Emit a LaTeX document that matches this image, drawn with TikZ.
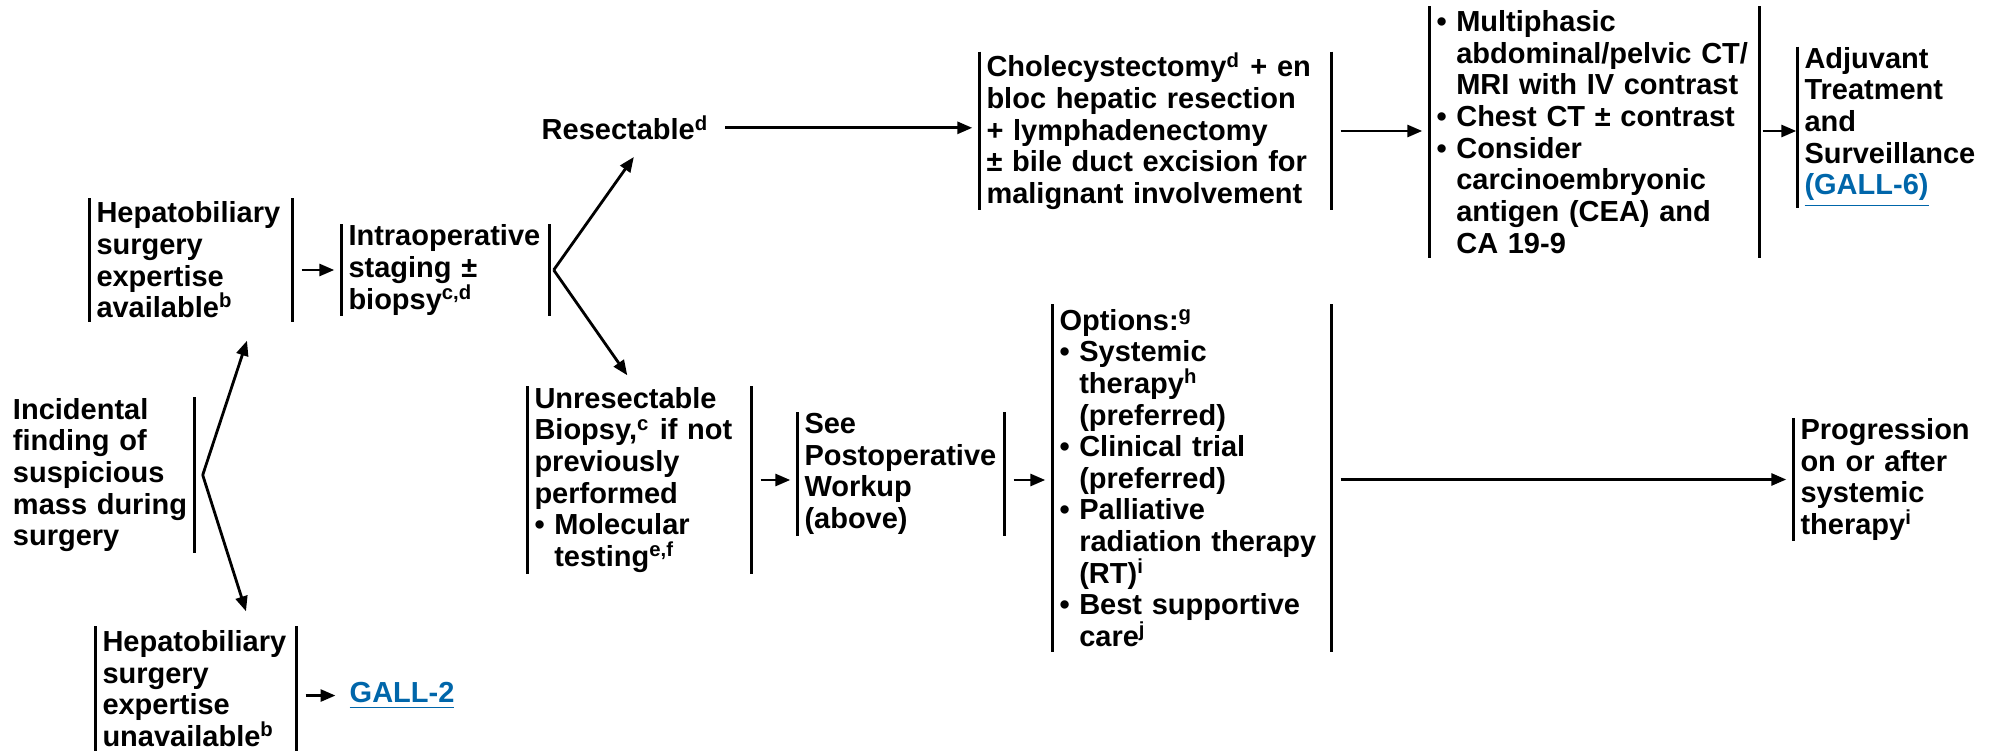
\documentclass[tikz,border=0pt]{standalone}
\usepackage{fontspec}
\setmainfont{Liberation Sans}
\usetikzlibrary{arrows.meta,positioning}
\definecolor{linkblue}{RGB}{0,102,170}
\newcommand{\bul}{\textbullet\ }
\newcommand{\ind}{\hphantom{\textbullet\ }}
\hyphenpenalty=10000

\begin{document}
\begin{tikzpicture}[
    txt/.style={font=\bfseries\fontsize{8.25}{9}\selectfont, align=left, inner xsep=0.065cm, inner ysep=0pt},
    bar/.style={line width=0.85pt},
    arr/.style={line width=0.8pt, -{Triangle[length=0.15cm,width=0.12cm]}, shorten <=0.09cm, shorten >=0.07cm}
]
    \useasboundingbox (0,0) rectangle (19.97,7.5);

    % left part
    \node[txt, inner xsep=0pt, text width=1.81cm, minimum height=1.54cm] (inc) at (1.035,2.75) {Incidental\\finding of\\suspicious\\mass during\\surgery};
    \node[txt, text width=1.89cm, minimum height=1.22cm] (avail) at (1.91,4.90) {Hepatobiliary\\surgery\\expertise\\available\textsuperscript{b}};
    \node[txt, text width=1.87cm, minimum height=1.23cm] (unavail) at (1.96,0.615) {Hepatobiliary\\surgery\\expertise\\unavailable\textsuperscript{b}};
    \node[txt, text=linkblue, anchor=base west] (gall2) at (3.425,0.48) {\underline{GALL-2}};
    \node[txt, text width=1.94cm, minimum height=0.90cm] (intraop) at (4.455,4.80) {Intraoperative\\staging ±\\biopsy\textsuperscript{c,d}};

    % resectable branch
    \node[txt, anchor=base west] (res) at (5.345,6.10) {Resectable\textsuperscript{d}};
    \node[txt, text width=3.38cm, minimum height=1.52cm] (chole) at (11.555,6.19) {Cholecystectomy\textsuperscript{d} + en\\bloc hepatic resection\\+ lymphadenectomy\\± bile duct excision for\\malignant involvement};
    \node[txt, text width=3.16cm, minimum height=2.50cm] (multi) at (15.945,6.18) {\bul Multiphasic\\\ind abdominal/pelvic CT/\\\ind MRI with IV contrast\\\bul Chest CT ± contrast\\\bul Consider\\\ind carcinoembryonic\\\ind antigen (CEA) and\\\ind CA 19-9};
    \node[txt, text width=1.79cm, minimum height=1.55cm] (adj) at (18.94,6.225) {Adjuvant\\Treatment\\and\\Surveillance\\{\color{linkblue}\underline{(GALL-6)}}};

    % unresectable branch
    \node[txt, text width=2.10cm, minimum height=1.86cm] (unres) at (6.395,2.70) {Unresectable\\Biopsy,\textsuperscript{c} if not\\previously\\performed\\\bul Molecular\\\ind testing\textsuperscript{e,f}};
    \node[txt, text width=1.93cm, minimum height=1.22cm] (see) at (9.01,2.76) {See\\Postoperative\\Workup\\(above)};
    \node[txt, text width=2.65cm, minimum height=3.46cm] (opts) at (11.92,2.72) {Options:\textsuperscript{g}\\\bul Systemic\\\ind therapy\textsuperscript{h}\\\ind (preferred)\\\bul Clinical trial\\\ind (preferred)\\\bul Palliative\\\ind radiation therapy\\\ind (RT)\textsuperscript{i}\\\bul Best supportive\\\ind care\textsuperscript{j}};
    \node[txt, text width=1.83cm, minimum height=1.21cm] (prog) at (18.92,2.705) {Progression\\on or after\\systemic\\therapy\textsuperscript{i}};

    % side bars
    \draw[bar] (inc.north east) -- (inc.south east);
    \foreach \n in {avail,unavail,intraop,unres,see,opts,chole,multi} {
        \draw[bar] (\n.north west) -- (\n.south west);
        \draw[bar] (\n.north east) -- (\n.south east);
    }
    \draw[bar] (adj.north west) -- (adj.south west);
    \draw[bar] (prog.north west) -- (prog.south west);

    % forks
    \coordinate (incfork) at ([xshift=0.08cm]inc.east);
    \coordinate (availin) at ([xshift=0.56cm,yshift=-0.19cm]avail.south);
    \coordinate (unavailin) at ([xshift=0.50cm,yshift=0.15cm]unavail.north);
    \draw[arr, shorten <=0pt, shorten >=0pt] (incfork) -- (availin);
    \draw[arr, shorten <=0pt, shorten >=0pt] (incfork) -- (unavailin);

    \coordinate (intrafork) at ([xshift=0.04cm]intraop.east);
    \coordinate (resin) at ([xshift=0.085cm,yshift=-0.16cm]res.south);
    \coordinate (unresin) at ([xshift=1.0cm,yshift=0.11cm]unres.north west);
    \draw[arr, shorten <=0pt, shorten >=0pt] (intrafork) -- (resin);
    \draw[arr, shorten <=0pt, shorten >=0pt] (intrafork) -- (unresin);

    % arrows
    \draw[arr] (avail.east |- intraop.west) -- (intraop.west);
    \draw[arr] (unavail.east |- gall2.west) -- (gall2.west);
    \draw[arr] (res.east) -- (res.east -| chole.west);
    \draw[arr] (chole.east) -- (chole.east -| multi.west);
    \draw[arr, shorten <=0.03cm, shorten >=0.01cm] (multi.east |- chole.east) -- (adj.west |- chole.east);
    \draw[arr] (unres.east) -- (unres.east -| see.west);
    \draw[arr] (see.east |- unres.east) -- (opts.west |- unres.east);
    \draw[arr] (opts.east |- prog.west) -- (prog.west);
\end{tikzpicture}
\end{document}
